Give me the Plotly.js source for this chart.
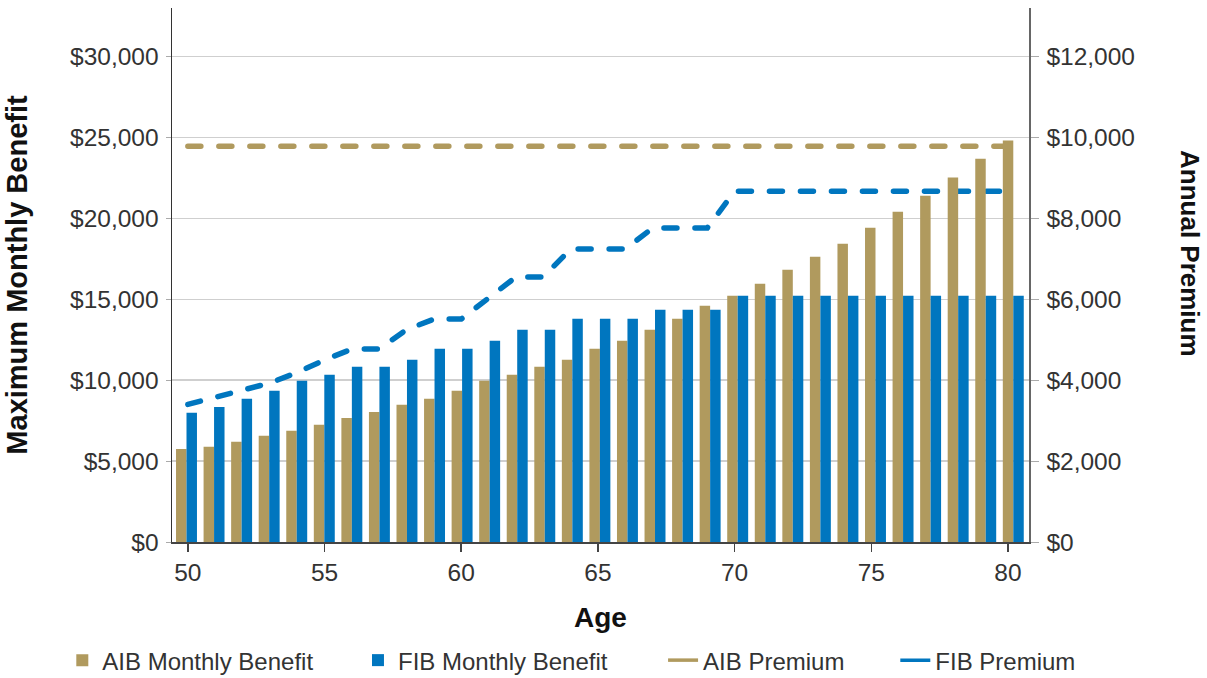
<!DOCTYPE html>
<html>
<head>
<meta charset="utf-8">
<script src="https://cdn.plot.ly/plotly-3.0.1.min.js"></script>
<style>
html,body{margin:0;padding:0;background:#fff;}
#chart{width:1207px;height:678px;}
.scatterlayer .js-line{stroke-linecap:round;}
</style>
</head>
<body>
<div id="chart"></div>
<script>
const ages = [50,51,52,53,54,55,56,57,58,59,60,61,62,63,64,65,66,67,68,69,70,71,72,73,74,75,76,77,78,79,80];
const aibBenefit = [5750,5880,6190,6560,6870,7240,7670,8040,8480,8850,9340,9960,10330,10830,11260,11940,12430,13110,13800,14600,15220,15960,16830,17630,18430,19420,20410,21400,22520,23690,24810];
const fibBenefit = [7980,8350,8850,9340,9960,10330,10830,10830,11260,11940,11940,12430,13110,13110,13800,13800,13800,14350,14350,14350,15220,15220,15220,15220,15220,15220,15220,15220,15220,15220,15220];
const aibPremium = [9780,9780,9780,9780,9780,9780,9780,9780,9780,9780,9780,9780,9780,9780,9780,9780,9780,9780,9780,9780,9780,9780,9780,9780,9780,9780,9780,9780,9780,9780,9780];
const fibPremium = [3400,3570,3760,3930,4190,4500,4770,4770,5250,5510,5510,6030,6550,6550,7240,7240,7240,7760,7760,7760,8670,8670,8670,8670,8670,8670,8670,8670,8670,8670,8670];
const seriesNames = ["AIB Monthly Benefit","FIB Monthly Benefit","AIB Premium","FIB Premium"];

const GOLD = "#B09A5E", BLUE = "#0076BF";
const FONT = "Liberation Sans, Arial, Helvetica, sans-serif";

const traces = [
  // premium lines on base subplot (drawn beneath bars)
  {type:"scatter", mode:"lines", x:ages, y:aibPremium, xaxis:"x", yaxis:"y",
   line:{color:GOLD, width:5.5, dash:"13px,18px"}, showlegend:false, hoverinfo:"skip"},
  {type:"scatter", mode:"lines", x:ages, y:fibPremium, xaxis:"x", yaxis:"y",
   line:{color:BLUE, width:5.5, dash:"13px,18px"}, showlegend:false, hoverinfo:"skip"},
  // benefit bars on overlay subplot
  {type:"bar", name:seriesNames[0], x:ages, y:aibBenefit, xaxis:"x2", yaxis:"y2",
   marker:{color:GOLD}, legend:"legend"},
  {type:"bar", name:seriesNames[1], x:ages, y:fibBenefit, xaxis:"x2", yaxis:"y2",
   marker:{color:BLUE}, legend:"legend2"},
  // legend-only entries for the premium lines (solid keys)
  {type:"scatter", mode:"lines", name:seriesNames[2], x:[null], y:[null], xaxis:"x", yaxis:"y",
   line:{color:GOLD, width:3.5}, legend:"legend3"},
  {type:"scatter", mode:"lines", name:seriesNames[3], x:[null], y:[null], xaxis:"x", yaxis:"y",
   line:{color:BLUE, width:3.5}, legend:"legend4"}
];

const legendBase = {orientation:"h", yanchor:"bottom", xanchor:"left", y:-0.2641,
  font:{family:FONT, size:24, color:"#333"}, bgcolor:"rgba(0,0,0,0)", itemclick:false};

const layout = {
  width:1207, height:678,
  margin:{l:172, r:178, t:8, b:136, autoexpand:false},
  paper_bgcolor:"#fff", plot_bgcolor:"#fff",
  font:{family:FONT, color:"#333"},
  barmode:"group", bargap:0.24, bargroupgap:0,
  xaxis:{range:[49.42,80.77], tickvals:[50,55,60,65,70,75,80], showgrid:false, zeroline:false,
    showline:true, linecolor:"#444", linewidth:1.5, ticks:"outside", ticklen:8, tickcolor:"#444", tickwidth:1.5,
    tickfont:{family:FONT, size:24.5, color:"#333"}, ticklabelstandoff:0,
    title:{text:"Age", font:{family:FONT, size:28, color:"#111", weight:"bold"}, standoff:22}},
  xaxis2:{range:[49.474,80.57], overlaying:"x", anchor:"y2", visible:false},
  yaxis:{range:[0,13200], side:"right", tickvals:[0,2000,4000,6000,8000,10000,12000],
    tickformat:"$,d", showgrid:true, gridcolor:"#cfcfcf", gridwidth:1.5, zeroline:false,
    showline:true, linecolor:"#666", linewidth:1.5, ticks:"outside", ticklen:8, tickcolor:"#aaa",
    tickfont:{family:FONT, size:24.5, color:"#333"}, ticklabelstandoff:3},
  yaxis2:{range:[0,33000], side:"left", overlaying:"y", anchor:"x",
    tickvals:[0,5000,10000,15000,20000,25000,30000], tickformat:"$,d",
    showgrid:false, zeroline:false, showline:true, linecolor:"#333", linewidth:1.5,
    ticks:"outside", ticklen:5, tickcolor:"#aaa", tickfont:{family:FONT, size:24.5, color:"#333"}, ticklabelstandoff:2,
    title:{text:"Maximum Monthly Benefit", font:{family:FONT, size:29, color:"#111", weight:"bold"}, standoff:34}},
  legend: Object.assign({}, legendBase, {x:-0.128}),
  legend2: Object.assign({}, legendBase, {x:0.217}),
  legend3: Object.assign({}, legendBase, {x:0.573}),
  legend4: Object.assign({}, legendBase, {x:0.844}),
  annotations:[{text:"Annual Premium", xref:"paper", yref:"paper", x:(1190-172)/857, y:(542-253)/534,
    xanchor:"center", yanchor:"middle", showarrow:false, textangle:90,
    font:{family:FONT, size:26, color:"#111", weight:"bold"}}]
};

Plotly.newPlot("chart", traces, layout, {staticPlot:true, displayModeBar:false});
</script>
</body>
</html>
